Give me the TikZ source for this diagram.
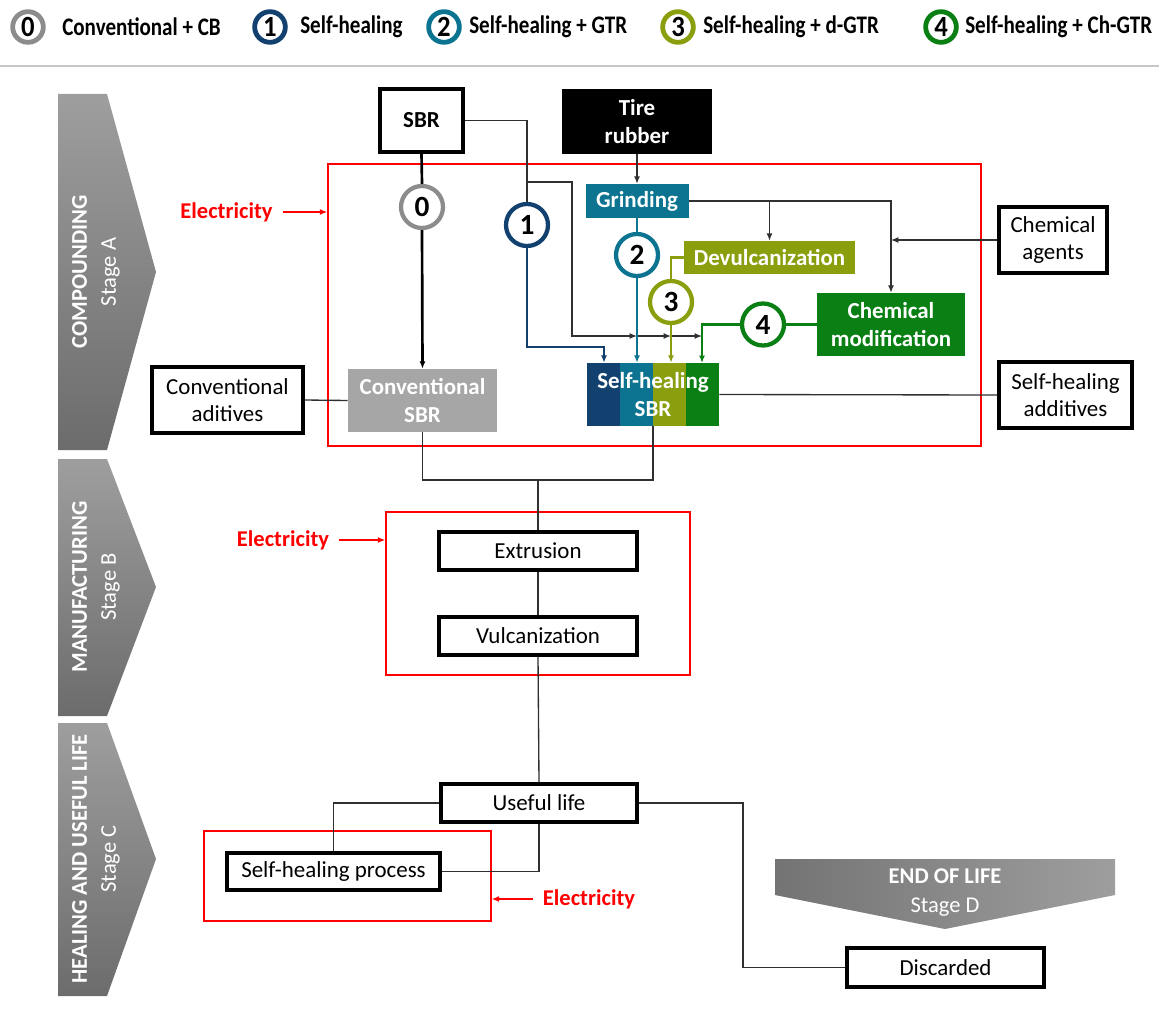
\documentclass[tikz,border=0pt]{standalone}
\usepackage{fontspec}
\setmainfont{Carlito}
\usetikzlibrary{arrows.meta,fit,calc}
\definecolor{cgray}{HTML}{8C8C8C}
\definecolor{cblue}{HTML}{12406F}
\definecolor{cteal}{HTML}{0C7390}
\definecolor{colive}{HTML}{8A9E0E}
\definecolor{cgreen}{HTML}{0A7F14}
\definecolor{csbr}{HTML}{A6A6A6}
\definecolor{chevlight}{HTML}{9E9E9E}
\definecolor{chevdark}{HTML}{6C6C6C}
\definecolor{conncol}{HTML}{303030}
\begin{document}
\begin{tikzpicture}[x=0.75pt,y=-0.75pt,
  box/.style={draw=black, line width=2.5pt, fill=white, inner sep=0pt, align=center, font=\fontsize{17.2}{20.5}\selectfont},
  cbox/.style={inner sep=0pt, align=center, text=white, font=\fontsize{17.2}{21}\selectfont\bfseries},
  sz/.style 2 args={minimum width=#1*0.75pt, minimum height=#2*0.75pt},
  num/.style={circle, draw=#1, line width=3.2pt, fill=white, minimum size=31.5pt, inner sep=0pt, font=\fontsize{22}{22}\selectfont\bfseries},
  lnum/.style={circle, draw=#1, line width=3.6pt, fill=white, minimum size=23pt, inner sep=0pt, font=\fontsize{20}{20}\selectfont\bfseries},
  ltxt/.style={anchor=west, inner sep=0pt, font=\fontsize{15.8}{18}\selectfont\bfseries},
  conn/.style={draw=conncol, line width=1pt},
  thk/.style={line width=1.6pt},
  arr/.style={-{Latex[length=5.5pt,width=4.5pt]}},
  redbox/.style={draw=red, line width=1.1pt, inner sep=0pt},
  elec/.style={text=red, inner sep=0pt, font=\fontsize{16.9}{20}\selectfont\bfseries},
  chevtxt/.style={text=white, align=center, rotate=90, inner sep=0pt, font=\fontsize{16.9}{21.75}\selectfont}
]
\fill[white] (0,0) rectangle (1159,1013);
\useasboundingbox (0,0) rectangle (1159,1013);

% ---------- legend ----------
\node[lnum=cgray]  (l0) at (28,27)  {\scalebox{1}[1.1]{0}};
\node[lnum=cblue]  (l1) at (270,27) {\scalebox{1}[1.1]{1}};
\node[lnum=cteal]  (l2) at (444,27) {\scalebox{1}[1.1]{2}};
\node[lnum=colive] (l3) at (678,27) {\scalebox{1}[1.1]{3}};
\node[lnum=cgreen] (l4) at (941,27) {\scalebox{1}[1.1]{4}};
\node[ltxt] (lt0) at (62,27)  {\scalebox{1}[1.2]{Conventional + CB}};
\node[ltxt] (lt1) at (300,27) {\scalebox{1}[1.2]{Self-healing}};
\node[ltxt] (lt2) at (469,27) {\scalebox{1}[1.2]{Self-healing + GTR}};
\node[ltxt] (lt3) at (703,27) {\scalebox{1}[1.2]{Self-healing + d-GTR}};
\node[ltxt] (lt4) at (965,27) {\scalebox{1}[1.2]{Self-healing + Ch-GTR}};
\draw[black!22, line width=2.2pt] (0,66) -- (1159,66);

% ---------- stage chevrons ----------
\shade[top color=chevlight, bottom color=chevdark] (58,94) -- (107,94) -- (156,272) -- (107,450) -- (58,450) -- cycle;
\shade[top color=chevlight, bottom color=chevdark] (58,459) -- (107,459) -- (156,587) -- (107,716) -- (58,716) -- cycle;
\shade[top color=chevlight, bottom color=chevdark] (58,723) -- (107,723) -- (156,859) -- (107,996) -- (58,996) -- cycle;
\shade[left color=chevdark!95, right color=chevlight] (775,859) -- (1115,859) -- (1115,895) -- (945,929) -- (775,895) -- cycle;
\node[chevtxt] (tA) at (96,272) {\textbf{COMPOUNDING}\\Stage A};
\node[chevtxt] (tB) at (96,587) {\textbf{MANUFACTURING}\\Stage B};
\node[chevtxt] (tC) at (96,859) {\textbf{HEALING AND USEFUL LIFE}\\Stage C};
\node[text=white, align=center, inner sep=0pt, font=\fontsize{16.9}{21.75}\selectfont] (tD) at (945,892.5) {\textbf{END OF LIFE}\\Stage D};

% ---------- red system boxes ----------
\node[redbox, fit={(328,164) (981,446)}] (redA) {};
\node[redbox, fit={(386,512) (690,675)}] (redB) {};
\node[redbox, fit={(204,831) (491,921)}] (redC) {};

% ---------- boxes ----------
\node[box, sz={83}{63}, font=\fontsize{17.2}{20.5}\selectfont\bfseries] (sbr) at (421.5,120.5) {SBR};
\node[cbox, sz={150}{65}, fill=black] (tire) at (637,121.5) {Tire\\rubber};
\node[cbox, sz={103}{34}, fill=cteal] (grind) at (637,201) {Grinding};
\node[cbox, sz={171}{33}, fill=colive] (devul) at (769.5,257.5) {Devulcanization};
\node[cbox, sz={148}{63}, fill=cgreen] (chem) at (891,324.5) {Chemical\\modification};
\node[box, sz={108}{66}] (chemag) at (1053,240) {Chemical\\agents};
\node[box, sz={133}{66}] (shadd) at (1065.5,395) {Self-healing\\additives};
\node[box, sz={151}{66}] (convadd) at (227.5,400) {Conventional\\aditives};
\node[cbox, sz={149}{63}, fill=csbr] (convsbr) at (422.5,400.5) {Conventional\\SBR};
\fill[cblue]  (587,363) rectangle (620,426);
\fill[cteal]  (620,363) rectangle (653,426);
\fill[colive] (653,363) rectangle (686,426);
\fill[cgreen] (686,363) rectangle (719,426);
\node[cbox, sz={132}{63}] (shsbr) at (653,394.5) {Self-healing\\SBR};
\node[box, sz={198}{38}] (extr) at (538,551) {Extrusion};
\node[box, sz={198}{38}] (vulc) at (538,636) {Vulcanization};
\node[box, sz={196}{38}] (useful) at (539,803) {Useful life};
\node[box, sz={213}{37}] (shproc) at (333.5,871.5) {Self-healing process};
\node[box, sz={197}{39}] (disc) at (945.5,967.5) {Discarded};

% ---------- route circles ----------
\node[num=cgray]  (c0) at (422,207)   {0};
\node[num=cblue]  (c1) at (527,225)   {1};
\node[num=cteal]  (c2) at (637,255)   {2};
\node[num=colive] (c3) at (671,302)   {3};
\node[num=cgreen] (c4) at (763,324.5) {4};

% ---------- electricity ----------
\node[elec] (eA) at (226.5,212) {Electricity};
\node[elec] (eB) at (283,540) {Electricity};
\node[elec] (eC) at (589,899) {Electricity};
\draw[red, line width=1pt, arr] ([xshift=7.5pt]eA.east) -- (eA.east -| redA.west);
\draw[red, line width=1pt, arr] ([xshift=7.5pt]eB.east) -- (eB.east -| redB.west);
\draw[red, line width=1pt, arr] ([xshift=-7.5pt]eC.west) -- (eC.west -| redC.east);

% ---------- connectors ----------
\coordinate (j1) at (527,182);
\coordinate (k)  at (572,336);
\coordinate (a2) at (637,336);
\coordinate (a3) at (671,336);
\coordinate (a4) at (702,336);
\coordinate (b1) at (604,347);
\coordinate (g4) at (702,363);
\coordinate (m)  at (538,480);
\coordinate (dd) at (743,967.5);

% route 0
\draw[black, line width=2pt] (sbr.south) -- (c0.north);
\draw[black, line width=2pt, arr] (c0.south) -- (convsbr.north);
% SBR feed
\draw[conn] (sbr.east) -| (c1.north);
\draw[conn, arr] (j1) -| (k) -- (a2);
\draw[conn, arr] (a2) -- (a3);
\draw[conn, arr] (a3) -- (a4);
% route 1
\draw[cblue, thk, arr] (c1.south) |- (b1) -- (b1 |- shsbr.north);
% tire rubber / grinding
\draw[conn, arr] (tire.south) -- (grind.north);
\draw[cteal, thk] (grind.south) -- (c2.north);
\draw[cteal, thk, arr] (c2.south) -- (c2.south |- shsbr.north);
\draw[conn, arr] (grind.east) -| (chem.north);
\draw[conn, arr] (grind.east -| devul.north) -- (devul.north);
\draw[conn, arr] (chemag.west) -- (chemag.west -| chem.north);
% route 3
\draw[colive, thk] (devul.west) -| (c3.north);
\draw[colive, thk, arr] (c3.south) -- (c3.south |- shsbr.north);
% route 4
\draw[cgreen, thk] (chem.west) -- (c4.east);
\draw[cgreen, thk, arr] (c4.west) -| (g4);
% additives
\draw[conn] (convadd.east) -- (convsbr.west);
\draw[conn] (shadd.west) -- (shsbr.east);
% to manufacturing
\draw[conn] (convsbr.south) |- (m) -| (shsbr.south);
\draw[conn] (m) -- (extr.north);
\draw[conn] (extr.south) -- (vulc.north);
\draw[conn] (vulc.south) -- (useful.north);
% use phase
\draw[conn] (useful.west) -| (shproc.north);
\draw[conn] (shproc.east) -| (useful.south);
\draw[conn] (useful.east) -| (dd) -- (disc.west);
\end{tikzpicture}
\end{document}
